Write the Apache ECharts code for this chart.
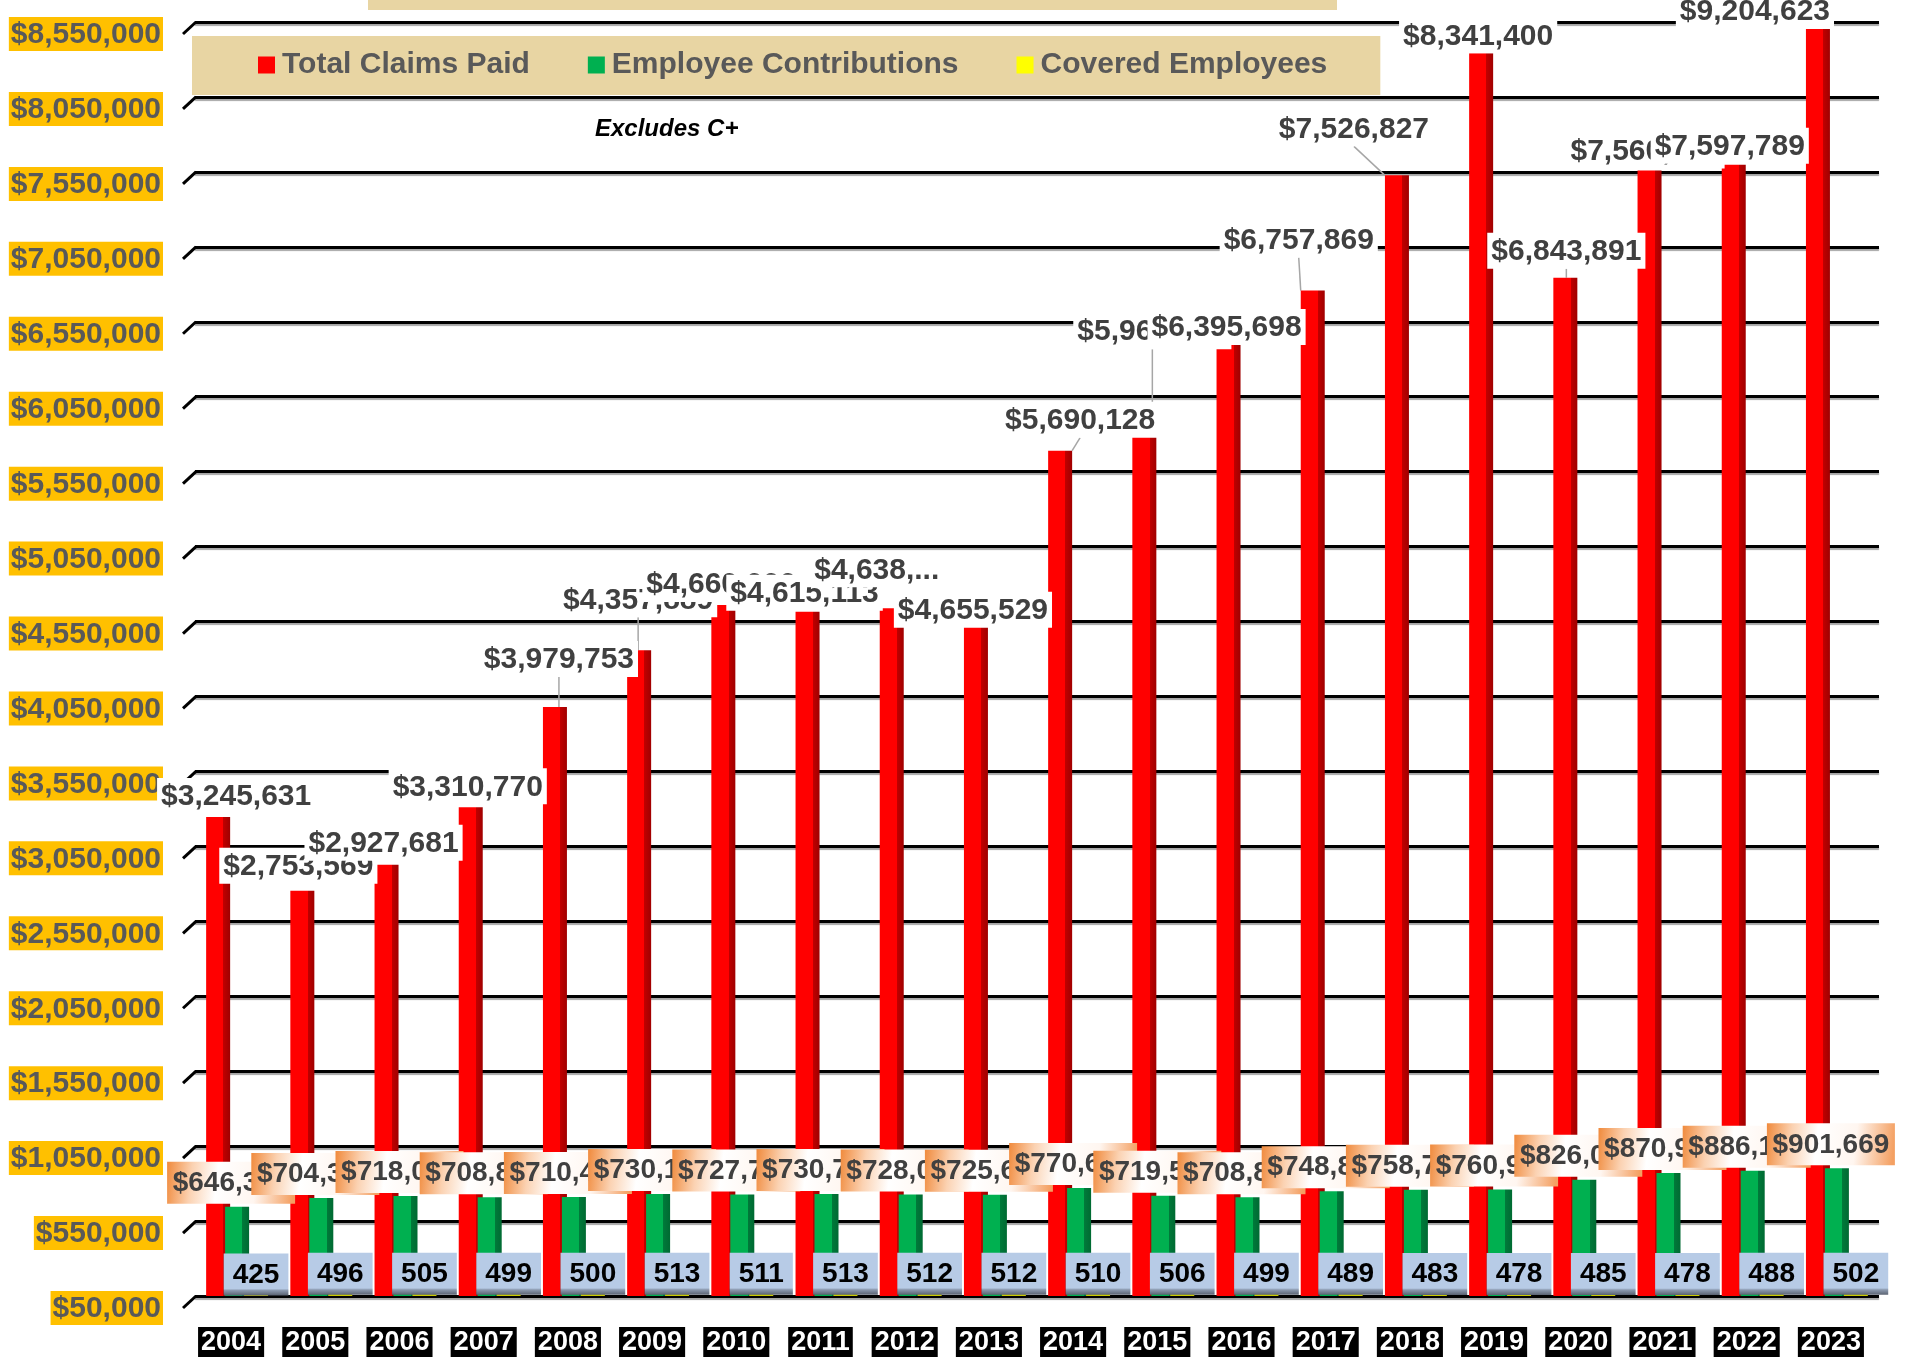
<!DOCTYPE html>
<html>
<head>
<meta charset="utf-8">
<script src="https://cdn.jsdelivr.net/npm/echarts@6/dist/echarts.min.js"></script>
<style>
  html, body { margin: 0; padding: 0; background: #ffffff; }
  #chart { width: 1905px; height: 1357px; }
</style>
</head>
<body>
<div id="chart"></div>
<script>
// ---------- data ----------
const years = ['2004','2005','2006','2007','2008','2009','2010','2011','2012','2013',
               '2014','2015','2016','2017','2018','2019','2020','2021','2022','2023'];
const totalClaimsPaid = [3245631, 2753569, 2927681, 3310770, 3979753, 4357889, 4660000, 4615113, 4638000, 4655529,
                         5690128, 5960000, 6395698, 6757869, 7526827, 8341400, 6843891, 7560000, 7597789, 9204623];
const employeeContributions = [646300, 704300, 718000, 708800, 710400, 730100, 727700, 730700, 728000, 725600,
                               770600, 719500, 708800, 748800, 758700, 760900, 826000, 870900, 886100, 901669];
const coveredEmployees = [425, 496, 505, 499, 500, 513, 511, 513, 512, 512,
                          510, 506, 499, 489, 483, 478, 485, 478, 488, 502];
const yTickValues = [50000, 550000, 1050000, 1550000, 2050000, 2550000, 3050000, 3550000, 4050000,
                     4550000, 5050000, 5550000, 6050000, 6550000, 7050000, 7550000, 8050000, 8550000];
const seriesNames = ['Total Claims Paid', 'Employee Contributions', 'Covered Employees'];
const noteText = 'Excludes C+';

// ---------- layout config (label placement, not data) ----------
const claimLabelShift = [[18,-3],[-4,-7],[-3,-4],[-3,-3],[4,-30],[-1,-33],[-2,-3],[-3,-1],[-15,-21],[-3,22],
                         [20,-13],[8,-61],[-2,0],[-14,-33],[-43,-29],[-3,0],[1,-9],[-4,-2],[-4,-1],[-63,7]];
const guideLineYears = ['2008','2009','2014','2015','2017','2018','2020'];
const truncatedYears = ['2012'];

const FONT = '"Liberation Sans", Arial, sans-serif';
const money = v => '$' + Math.round(v).toLocaleString('en-US');

const chart = echarts.init(document.getElementById('chart'), null, { renderer: 'canvas' });

const redFill = new echarts.graphic.LinearGradient(0, 0, 1, 0, [
  { offset: 0, color: '#ff0000' }, { offset: 0.72, color: '#ff0000' },
  { offset: 0.72, color: '#c00000' }, { offset: 1, color: '#a00000' }]);
const greenFill = new echarts.graphic.LinearGradient(0, 0, 1, 0, [
  { offset: 0, color: '#00b050' }, { offset: 0.72, color: '#00b050' },
  { offset: 0.72, color: '#007a3a' }, { offset: 1, color: '#006a32' }]);
const orangeBox = new echarts.graphic.LinearGradient(0, 0, 1, 0.35, [
  { offset: 0, color: '#f08a3c' }, { offset: 0.2, color: '#fbd2b2' }, { offset: 0.4, color: '#ffffff' },
  { offset: 0.7, color: '#fff6f0' }, { offset: 1, color: '#f4a062' }]);
const blueBox = new echarts.graphic.LinearGradient(0, 0, 0, 1, [
  { offset: 0, color: '#b7cbe6' }, { offset: 0.84, color: '#b7cbe6' },
  { offset: 0.88, color: '#8d9bb0' }, { offset: 1, color: '#5b6372' }]);

const claimsData = totalClaimsPaid.map((v, i) => {
  const item = { value: v };
  if (guideLineYears.includes(years[i])) {
    item.labelLine = { show: true };
  }
  if (truncatedYears.includes(years[i])) {
    item.label = { width: 133, overflow: 'truncate', ellipsis: '...' };
  }
  return item;
});

const option = {
  animation: false,
  backgroundColor: '#ffffff',
  graphic: [
    { type: 'rect', left: 368, top: 0, shape: { width: 969, height: 10 }, style: { fill: '#e8d5a3' }, z: 0 },
    { type: 'text', left: 595, top: 117, style: { text: noteText, font: 'italic bold 24px ' + FONT, fill: '#000000' }, z: 10 }
  ],
  legend: {
    left: 192, top: 36,
    padding: [14, 53, 15, 66],
    backgroundColor: '#e8d5a3',
    itemWidth: 17, itemHeight: 17, itemGap: 58,
    icon: 'rect',
    textStyle: { fontFamily: FONT, fontSize: 30, fontWeight: 'bold', color: '#595959', padding: [0, 0, 0, 2] },
    data: [
      { name: seriesNames[0], itemStyle: { color: '#ff0000' } },
      { name: seriesNames[1], itemStyle: { color: '#00b050' } },
      { name: seriesNames[2], itemStyle: { color: '#ffff00' } }
    ]
  },
  grid: { left: 195, right: 26, top: 22, bottom: 61, containLabel: false },
  xAxis: {
    type: 'category',
    data: years,
    axisLine: { show: false },
    axisTick: { show: false },
    axisLabel: {
      margin: 31,
      padding: [0, 12, 0, 0],
      formatter: v => '{y|' + v + '}',
      rich: { y: { backgroundColor: '#000000', color: '#ffffff', fontFamily: FONT, fontSize: 27, fontWeight: 'bold', padding: [2, 3, 1, 3] } }
    }
  },
  yAxis: [
    {
      type: 'value', min: yTickValues[0], max: yTickValues[yTickValues.length - 1], interval: 500000,
      axisLine: { show: false }, axisTick: { show: false },
      splitLine: { lineStyle: { color: '#000000', width: 3, shadowColor: 'rgba(0,0,0,0.35)', shadowOffsetY: 2, shadowBlur: 1 } },
      axisLabel: {
        margin: 32,
        padding: [24, 0, 0, 0],
        formatter: v => '{a|' + money(v) + '}',
        rich: { a: { backgroundColor: '#ffc000', color: '#595959', fontFamily: FONT, fontSize: 30, fontWeight: 'bold', padding: [3, 2, 1, 2] } }
      }
    },
    { type: 'value', min: 0, max: 150000, show: false, splitLine: { show: false } }
  ],
  series: [
    {
      name: 'gridStubs', type: 'custom',
      data: yTickValues.map(v => [0, v]),
      encode: { x: 0, y: 1 },
      silent: true, z: 1,
      renderItem: (params, api) => {
        const pt = api.coord([api.value(0), api.value(1)]);
        const x0 = params.coordSys.x;
        return {
          type: 'line',
          shape: { x1: x0 - 12, y1: pt[1] + 12, x2: x0 + 1, y2: pt[1] },
          style: { stroke: '#000000', lineWidth: 3 }
        };
      }
    },
    {
      name: seriesNames[0], type: 'bar', data: claimsData,
      barWidth: 24, barGap: '-21%', clip: true,
      itemStyle: { color: redFill },
      label: {
        show: true, position: 'top', distance: 0,
        formatter: p => money(p.value),
        fontFamily: FONT, fontSize: 30, fontWeight: 'bold', color: '#404040',
        backgroundColor: '#ffffff', padding: [3, 4, 1, 4], lineHeight: 32
      },
      labelLine: { show: false, lineStyle: { color: '#a6a6a6', width: 1.5 } },
      labelLayout: p => ({ dx: claimLabelShift[p.dataIndex][0], dy: claimLabelShift[p.dataIndex][1] }),
      z: 2
    },
    {
      name: seriesNames[1], type: 'bar', data: employeeContributions,
      barWidth: 24,
      itemStyle: { color: greenFill },
      label: {
        show: true, position: 'top', distance: 3, offset: [-6, 0],
        formatter: p => money(p.value),
        width: 118, align: 'center', overflow: 'none',
        fontFamily: FONT, fontSize: 28, fontWeight: 'bold', color: '#404040',
        backgroundColor: orangeBox, padding: [6, 5, 5, 5], lineHeight: 31
      },
      z: 3
    },
    {
      name: seriesNames[2], type: 'bar', data: coveredEmployees, yAxisIndex: 1,
      barWidth: 24,
      itemStyle: { color: '#cccc00' },
      label: {
        show: true, position: 'top', distance: 0, offset: [0, 3],
        fontFamily: FONT, fontSize: 28, fontWeight: 'bold', color: '#000000',
        backgroundColor: blueBox, padding: [7, 9, 6, 9], lineHeight: 29
      },
      z: 4
    }
  ]
};

chart.setOption(option);
</script>
</body>
</html>
